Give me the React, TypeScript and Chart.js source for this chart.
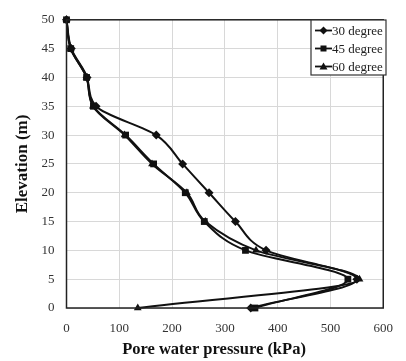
import React, { useEffect, useRef } from "react";
import { Chart, registerables } from "chart.js";
Chart.register(...registerables);

const elevations = [50, 45, 40, 35, 30, 25, 20, 15, 10, 5, 0];
const deg30 = [0, 9, 39, 56, 170, 220, 270, 320, 378, 550, 349];
const deg45 = [0, 8, 38, 51, 112, 165, 225, 261, 339, 533, 357];
const deg60 = [0, 8, 38, 50, 110, 162, 228, 263, 359, 555, 135];
const seriesNames = ["30 degree", "45 degree", "60 degree"];
const pointStyles = ["rectRot", "rect", "triangle"];
const xTicks = [0, 100, 200, 300, 400, 500, 600];
const xTitle = "Pore water pressure (kPa)";
const yTitle = "Elevation (m)";

const serif = "'Liberation Serif', 'Times New Roman', serif";

const boxPlugin = {
  id: "boxAndLegend",
  afterDraw(chart: any) {
    const { ctx, chartArea } = chart;
    ctx.save();
    ctx.strokeStyle = "#222";
    ctx.lineWidth = 1.5;
    ctx.strokeRect(chartArea.left, chartArea.top, chartArea.right - chartArea.left, chartArea.bottom - chartArea.top);
    // x title
    ctx.fillStyle = "#111";
    ctx.font = `bold 16.5px ${serif}`;
    ctx.textAlign = "center";
    ctx.textBaseline = "middle";
    ctx.fillText(xTitle, 214, 350);
    // legend
    const lx = 311, ly = 20, lw = 75, lh = 55;
    ctx.fillStyle = "#fff";
    ctx.fillRect(lx, ly, lw, lh);
    ctx.strokeStyle = "#333";
    ctx.lineWidth = 1.2;
    ctx.strokeRect(lx, ly, lw, lh);
    ctx.font = `13px ${serif}`;
    ctx.textBaseline = "middle";
    seriesNames.forEach((name, i) => {
      const y = ly + 10.5 + i * 18;
      ctx.strokeStyle = "#111";
      ctx.lineWidth = 1.8;
      ctx.beginPath();
      ctx.moveTo(lx + 4, y);
      ctx.lineTo(lx + 21, y);
      ctx.stroke();
      ctx.fillStyle = "#111";
      const cx = lx + 12.5;
      ctx.beginPath();
      if (i === 0) {
        ctx.moveTo(cx, y - 4); ctx.lineTo(cx + 4, y); ctx.lineTo(cx, y + 4); ctx.lineTo(cx - 4, y); ctx.closePath();
      } else if (i === 1) {
        ctx.rect(cx - 3, y - 3, 6, 6);
      } else {
        ctx.moveTo(cx, y - 4); ctx.lineTo(cx + 4, y + 3); ctx.lineTo(cx - 4, y + 3); ctx.closePath();
      }
      ctx.fill();
      ctx.fillStyle = "#222";
      ctx.textAlign = "left";
      ctx.fillText(name, lx + 21, y + 1);
    });
    ctx.restore();
  },
};

export default function App() {
  const ref = useRef<HTMLCanvasElement>(null);
  useEffect(() => {
    document.body.style.margin = "0";
    const series = [deg30, deg45, deg60];
    const radii = [4.5, 4.8, 4.5];
    const chart = new Chart(ref.current!, {
      type: "line",
      data: {
        datasets: series.map((s, i) => ({
          label: seriesNames[i],
          data: s.map((v, j) => ({ x: v, y: elevations[j] })),
          borderColor: "#111",
          backgroundColor: "#111",
          borderWidth: 2,
          pointStyle: pointStyles[i] as any,
          pointRadius: radii[i],
          pointBorderWidth: 0,
          cubicInterpolationMode: "monotone" as const,
          indexAxis: "y" as const,
          clip: false as any,
          fill: false,
        })),
      },
      options: {
        animation: false,
        responsive: false,
        indexAxis: "y",
        layout: { padding: { top: 11, right: 12, left: 0, bottom: 0 } },
        plugins: { legend: { display: false }, tooltip: { enabled: false } },
        scales: {
          x: {
            type: "linear",
            position: "bottom",
            min: 0,
            max: 600,
            afterBuildTicks: (s: any) => { s.ticks = xTicks.map((v) => ({ value: v })); },
            afterFit: (s: any) => { s.height = 53; },
            grid: { color: "#d8d8d8", drawTicks: false, lineWidth: 1 },
            border: { display: false },
            ticks: { color: "#333", font: { family: serif, size: 13 }, padding: 13 },
            title: { display: false },
          },
          y: {
            type: "linear",
            position: "left",
            min: 0,
            max: 50,
            ticks: { stepSize: 5, color: "#333", font: { family: serif, size: 13 }, padding: 12 },
            afterFit: (s: any) => { s.width = 66.5; },
            grid: { color: "#d8d8d8", drawTicks: false, lineWidth: 1 },
            border: { display: false },
            title: {
              display: true,
              text: yTitle,
              color: "#111",
              font: { family: serif, size: 17, weight: "bold" },
              padding: { top: 12, bottom: 0 },
            },
          },
        },
      },
      plugins: [boxPlugin],
    });
    return () => chart.destroy();
  }, []);
  return (
    <div style={{ width: 406, height: 361 }}>
      <canvas ref={ref} width={406} height={361} />
    </div>
  );
}
